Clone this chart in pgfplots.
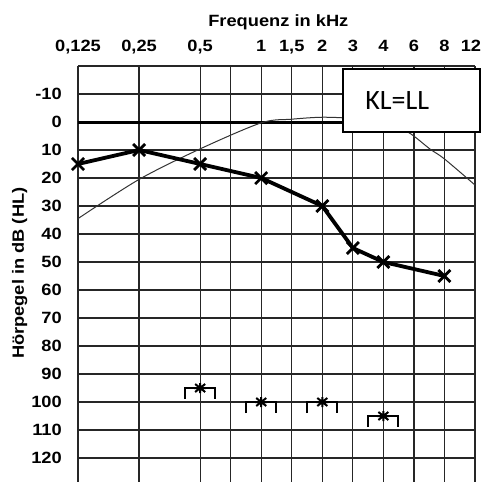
\documentclass[border=0pt]{standalone}
\usepackage{fontspec}
\setmainfont{Liberation Sans}
\newfontfamily\labfont[FakeStretch=1.12]{Liberation Sans}
\newfontfamily\calfont{Carlito}
\usepackage{pgfplots}
\pgfplotsset{compat=1.18}

\pgfdeclareplotmark{bcmark}{%
 \pgfsetlinewidth{1.8bp}%
 \pgfpathmoveto{\pgfqpoint{-15bp}{-11bp}}%
 \pgfpathlineto{\pgfqpoint{-15bp}{0bp}}%
 \pgfpathlineto{\pgfqpoint{15bp}{0bp}}%
 \pgfpathlineto{\pgfqpoint{15bp}{-11bp}}%
 \pgfusepathqstroke
 \pgfsetlinewidth{2bp}%
 \pgfpathmoveto{\pgfqpoint{-5bp}{-4bp}}\pgfpathlineto{\pgfqpoint{5bp}{4bp}}%
 \pgfpathmoveto{\pgfqpoint{-5bp}{4bp}}\pgfpathlineto{\pgfqpoint{5bp}{-4bp}}%
 \pgfpathmoveto{\pgfqpoint{-6bp}{0bp}}\pgfpathlineto{\pgfqpoint{6bp}{0bp}}%
 \pgfpathmoveto{\pgfqpoint{0bp}{-5bp}}\pgfpathlineto{\pgfqpoint{0bp}{5bp}}%
 \pgfusepathqstroke
}

\begin{document}
\begin{tikzpicture}
\begin{axis}[
 scale only axis, width=397bp, height=415.8bp,
 xmin=0, xmax=6.5, ymin=-20, ymax=128.5, y dir=reverse,
 axis line style={draw=none},
 major tick length=0pt,
 xtick={0,1,2,2.5,3,3.5,4,4.5,5,5.5,6,6.5},
 xticklabels={{0,125},{0,25},{0,5},{},1,{1,5},2,3,4,6,8,{12\rule{8bp}{0pt}}},
 xticklabel pos=top,
 ytick={-20,-10,...,120},
 yticklabels={{},-10,0,10,20,30,40,50,60,70,80,90,100,110,120},
 grid=major,
 major grid style={black!85, line width=1.3bp},
 tick label style={font=\labfont\bfseries\fontsize{16.3bp}{19bp}\selectfont, inner sep=0pt},
 xticklabel style={anchor=base, yshift=15bp},
 yticklabel style={anchor=east, xshift=-16bp},
 clip=false,
]
\addplot[black, line width=3bp] coordinates {(0,0) (6.5,0)};
\addplot[black!80, line width=1bp, smooth] coordinates {(0,34.5) (1,20.5) (2,9.6) (3,0.3) (3.5,-1) (4,-1.7) (4.5,-1.2) (5,0.8) (5.4,3.6) (5.76,9.6) (6,13.2) (6.5,22.5)};
\addplot[black, line width=3.8bp, mark=x, mark size=8.5bp, mark options={line width=2.8bp}] coordinates {(0,15)(1,10)(2,15)(3,20)(4,30)(4.5,45)(5,50)(6,55)};
\addplot[black, only marks, mark=bcmark] coordinates {(2,95)(3,100)(4,100)(5,105)};
\draw[black, line width=2bp, fill=white] (axis cs:4.34,-18.9) rectangle (axis cs:6.58,3.6);
\node[anchor=base west, font=\calfont\fontsize{28bp}{32bp}\selectfont, inner sep=0pt] at (axis cs:4.70,-4.3) {KL=LL};
\node[anchor=base, font=\labfont\bfseries\fontsize{16.3bp}{19bp}\selectfont, inner sep=0pt] at ([yshift=39.5bp]axis cs:3.28,-20) {Frequenz in kHz};
\node[rotate=90, anchor=base, font=\labfont\bfseries\fontsize{16.3bp}{19bp}\selectfont, inner sep=0pt] at ([xshift=-54bp]axis cs:0,54) {Hörpegel in dB (HL)};
\coordinate (TL) at (axis cs:0,-20);
\coordinate (BR) at (axis cs:6.5,128.5);
\end{axis}
\pgfresetboundingbox
\path[use as bounding box] ([xshift=-78bp,yshift=66bp]TL) rectangle ([xshift=8bp]BR);
\end{tikzpicture}
\end{document}
